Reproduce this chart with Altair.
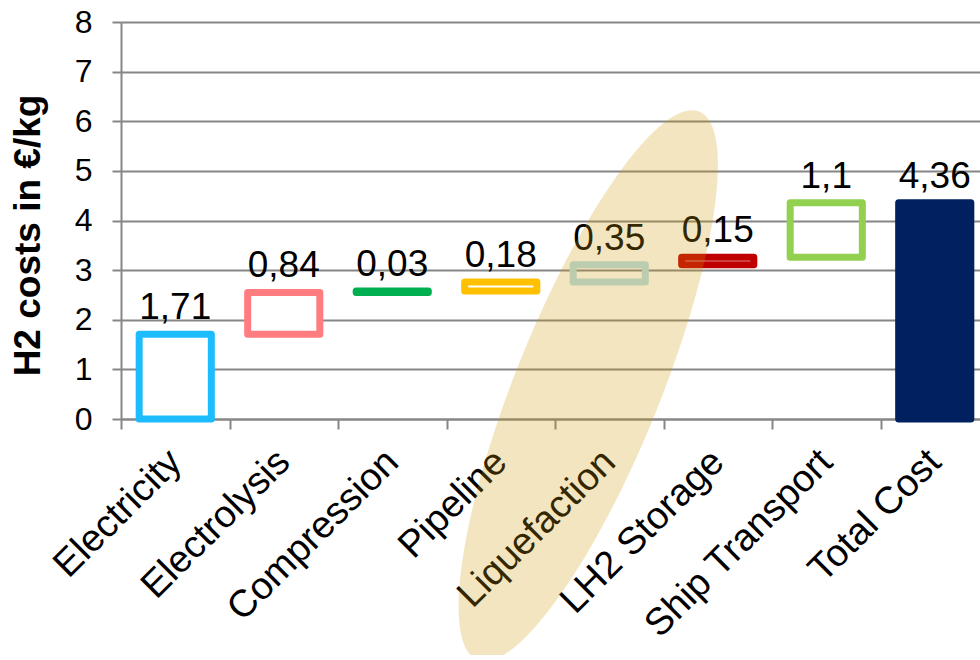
import altair as alt
import pandas as pd

# Cost steps along the LH2 supply chain (EUR per kg of H2)
categories = ["Electricity", "Electrolysis", "Compression", "Pipeline",
              "Liquefaction", "LH2 Storage", "Ship Transport", "Total Cost"]
step_costs = [1.71, 0.84, 0.03, 0.18, 0.35, 0.15, 1.10]
total_cost = 4.36
stroke_colors = ["#1cbcff", "#ff7c80", "#00b050", "#ffc000",
                 "#b7dee8", "#c00000", "#92d050", "#002060"]
fill_colors = ["white", "white", "white", "white",
               "transparent", "white", "transparent", "#002060"]

# waterfall: each step floats on the running sum, the total stands on zero
ends = pd.Series(step_costs).cumsum().round(2).tolist()
starts = [0.0] + ends[:-1]
df = pd.DataFrame({
    "cat": categories,
    "start": starts + [0.0],
    "end": ends + [total_cost],
    "value": step_costs + [total_cost],
    "stroke": stroke_colors,
    "fill": fill_colors,
})
df["label"] = df["value"].map(lambda v: f"{v:g}".replace(".", ","))

# highlighted step (the liquefaction / storage / shipping link)
highlight = pd.DataFrame({"cat": ["Liquefaction"], "y": [0.67]})

FONT = "Liberation Sans"
GREY = "#868686"

x_scale = alt.Scale(domain=categories, range=[0, 868],
                    paddingInner=0, paddingOuter=0)
y_scale = alt.Scale(domain=[0, 8])

x_axis = alt.Axis(
    title=None, labelAngle=-45, labelAlign="right", labelBaseline="middle",
    labelFontSize=38, labelFont=FONT, labelColor="black", labelPadding=27,
    labelLimit=0, labelOverlap=False,
    tickBand="extent", tickSize=10, tickWidth=2, tickColor=GREY,
    domainColor=GREY, domainWidth=2, grid=False, zindex=0,
)
y_axis = alt.Axis(
    title="H2 costs in €/kg", titleFont=FONT, titleFontSize=37,
    titleFontWeight="bold", titleColor="black", titleAngle=-90,
    titleX=-93, titleY=213, titleAlign="center", titleBaseline="middle",
    values=list(range(0, 9)), labelFontSize=32, labelFont=FONT,
    labelColor="black", labelPadding=20,
    tickSize=9, tickWidth=2, tickColor=GREY,
    domainColor=GREY, domainWidth=2,
    grid=True, gridColor=GREY, gridWidth=2, zindex=0,
)

base = alt.Chart(df)

bars = base.mark_bar(
    width=alt.RelativeBandSize(0.665), strokeWidth=7, strokeJoin="round"
).encode(
    x=alt.X("cat:N", scale=x_scale, axis=x_axis),
    y=alt.Y("start:Q", scale=y_scale, axis=y_axis),
    y2="end:Q",
    fill=alt.Fill("fill:N", scale=None),
    stroke=alt.Stroke("stroke:N", scale=None),
)

labels = base.mark_text(
    font=FONT, fontSize=37, color="black", align="center",
    baseline="alphabetic", dy=-15,
).encode(
    x=alt.X("cat:N", scale=x_scale),
    y=alt.Y("end:Q", scale=y_scale),
    text="label:N",
)

# tilted oval drawn over the highlighted part of the chain
ELLIPSE = "M0,-1 A0.245,1 0 1,1 0,1 A0.245,1 0 1,1 0,-1 Z"
oval = alt.Chart(highlight).mark_point(
    shape=ELLIPSE, size=350000, angle=22, filled=True,
    fill="#cc9900", fillOpacity=0.25, strokeWidth=0, xOffset=-21,
).encode(
    x=alt.X("cat:N", scale=x_scale),
    y=alt.Y("y:Q", scale=y_scale),
)

chart = alt.layer(bars, labels, oval).properties(
    width=859, height=397,
    autosize=alt.AutoSizeParams(type="none"),
    padding={"left": 121, "top": 22, "right": 0, "bottom": 236},
).configure_view(stroke=None).configure(background="white")

chart.save("out.html", embed_options={"renderer": "svg", "actions": False})
